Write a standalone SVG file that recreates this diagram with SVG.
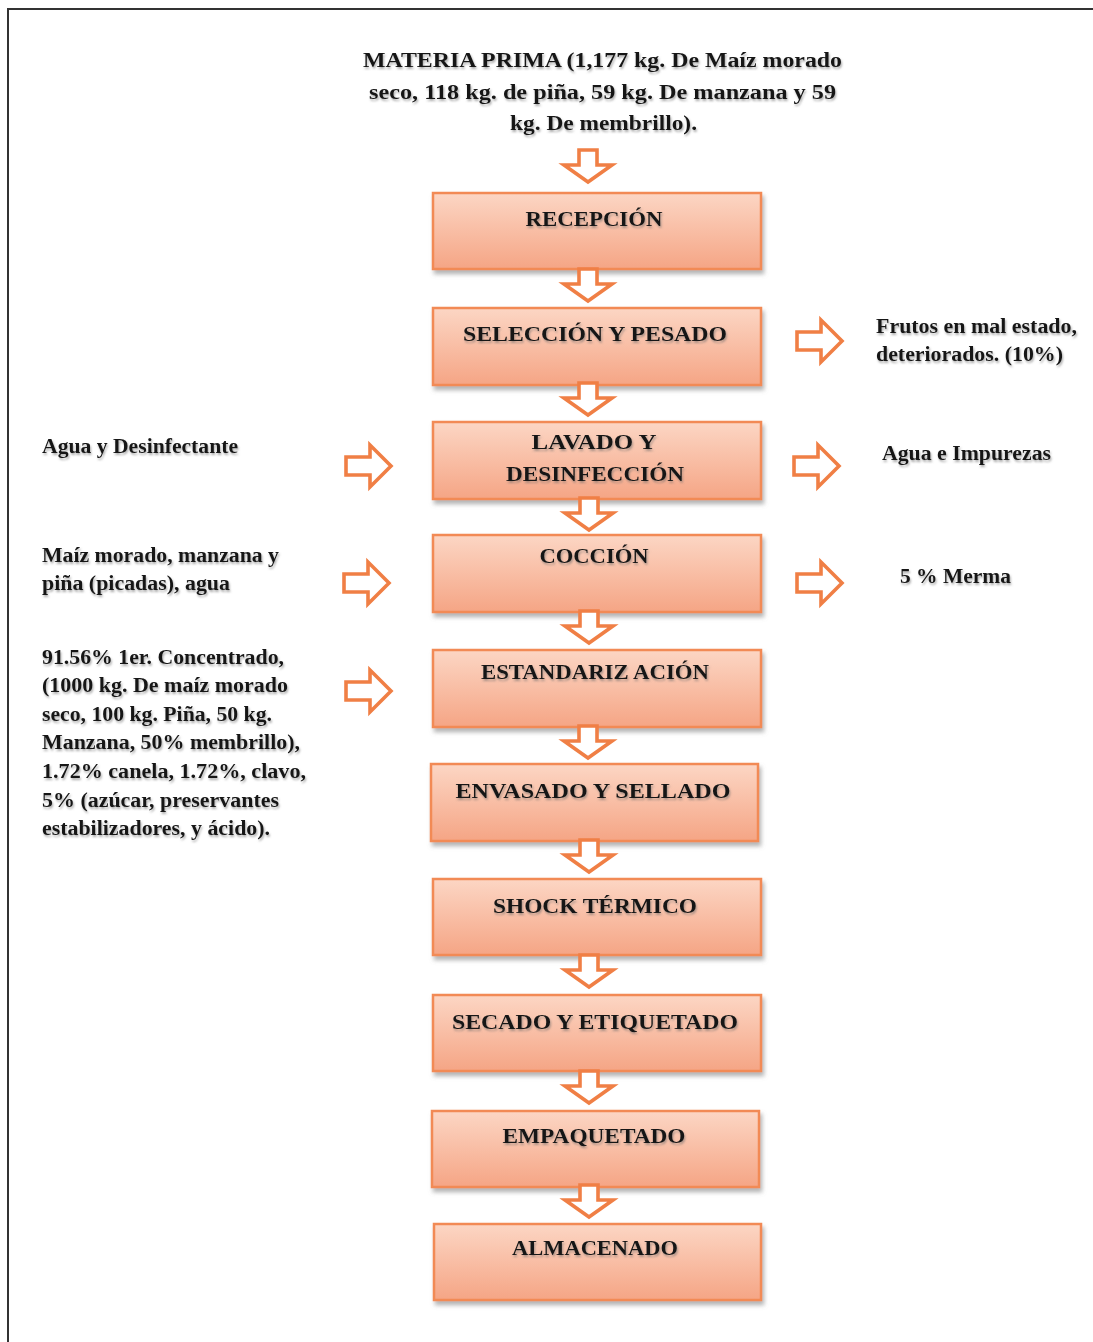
<svg xmlns="http://www.w3.org/2000/svg" width="1093" height="1342" viewBox="0 0 1093 1342">
<defs>
<linearGradient id="boxg" x1="0" y1="0" x2="0" y2="1">
<stop offset="0" stop-color="#FCD6C4"/>
<stop offset="1" stop-color="#F5A585"/>
</linearGradient>
<filter id="bsh" x="-5%" y="-10%" width="115%" height="130%">
<feDropShadow dx="2" dy="4" stdDeviation="2" flood-color="#777" flood-opacity="0.55"/>
</filter>
<filter id="tsh" x="-5%" y="-30%" width="110%" height="160%">
<feDropShadow dx="1" dy="2" stdDeviation="1.3" flood-color="#666" flood-opacity="0.55"/>
</filter>
<path id="dn" d="M-9,0 H9 V15 H24 L0,32 L-24,15 H-9 Z"/>
<path id="rt" d="M0,-9 H24 V-21 L45,0 L24,21 V9 H0 Z"/>
</defs>
<style>
.box{fill:url(#boxg);stroke:#F28A55;stroke-width:2.5;filter:url(#bsh)}
.t{font-family:"Liberation Serif","Times New Roman",serif;font-weight:bold;fill:#151515;filter:url(#tsh)}
.bt{font-size:21px;text-anchor:middle}
.st{font-size:20px}
.arr{fill:#fff;stroke:#F07F45;stroke-width:3.6;stroke-linejoin:miter}
</style>
<rect width="1093" height="1342" fill="#fff"/>
<path d="M8,1342 V9 H1093" fill="none" stroke="#333" stroke-width="2"/>

<g id="input-top">
<text class="t st" x="363" y="67" textLength="479" lengthAdjust="spacingAndGlyphs">MATERIA  PRIMA  (1,177 kg. De Maíz  morado</text>
<text class="t st" x="369" y="99" textLength="467" lengthAdjust="spacingAndGlyphs">seco,  118 kg. de piña, 59 kg. De manzana y 59</text>
<text class="t st" x="510" y="130" textLength="187" lengthAdjust="spacingAndGlyphs">kg. De membrillo).</text>
</g>

<g id="n1"><rect class="box" x="433" y="193" width="328" height="76"/><text class="t bt" x="594" y="226" textLength="137" lengthAdjust="spacingAndGlyphs">RECEPCIÓN</text></g>
<g id="n2"><rect class="box" x="433" y="308" width="328" height="77"/><text class="t bt" x="595" y="341" textLength="264" lengthAdjust="spacingAndGlyphs">SELECCIÓN Y PESADO</text></g>
<g id="n3"><rect class="box" x="433" y="422" width="328" height="77"/><text class="t bt" x="594" y="449" textLength="125" lengthAdjust="spacingAndGlyphs">LAVADO Y</text><text class="t bt" x="595" y="481" textLength="178" lengthAdjust="spacingAndGlyphs">DESINFECCIÓN</text></g>
<g id="n4"><rect class="box" x="433" y="535" width="328" height="77"/><text class="t bt" x="594" y="563" textLength="109" lengthAdjust="spacingAndGlyphs">COCCIÓN</text></g>
<g id="n5"><rect class="box" x="433" y="650" width="328" height="77"/><text class="t bt" x="595" y="679" textLength="228" lengthAdjust="spacingAndGlyphs">ESTANDARIZ ACIÓN</text></g>
<g id="n6"><rect class="box" x="431" y="764" width="327" height="77"/><text class="t bt" x="593" y="798" textLength="275" lengthAdjust="spacingAndGlyphs">ENVASADO  Y SELLADO</text></g>
<g id="n7"><rect class="box" x="433" y="879" width="328" height="76"/><text class="t bt" x="595" y="913" textLength="204" lengthAdjust="spacingAndGlyphs">SHOCK TÉRMICO</text></g>
<g id="n8"><rect class="box" x="433" y="995" width="328" height="76"/><text class="t bt" x="595" y="1029" textLength="286" lengthAdjust="spacingAndGlyphs">SECADO Y ETIQUETADO</text></g>
<g id="n9"><rect class="box" x="432" y="1111" width="327" height="76"/><text class="t bt" x="594" y="1143" textLength="183" lengthAdjust="spacingAndGlyphs">EMPAQUETADO</text></g>
<g id="n10"><rect class="box" x="434" y="1224" width="327" height="76"/><text class="t bt" x="595" y="1255" textLength="166" lengthAdjust="spacingAndGlyphs">ALMACENADO</text></g>

<g id="side-left-1"><text class="t st" x="42" y="453" textLength="196" lengthAdjust="spacingAndGlyphs">Agua y Desinfectante</text></g>
<g id="side-left-2">
<text class="t st" x="42" y="562" textLength="237" lengthAdjust="spacingAndGlyphs">Maíz morado, manzana y</text>
<text class="t st" x="42" y="590" textLength="188" lengthAdjust="spacingAndGlyphs">piña (picadas), agua</text>
</g>
<g id="side-left-3">
<text class="t st" x="42" y="664" textLength="242" lengthAdjust="spacingAndGlyphs">91.56% 1er. Concentrado,</text>
<text class="t st" x="42" y="692" textLength="246" lengthAdjust="spacingAndGlyphs">(1000 kg. De maíz morado</text>
<text class="t st" x="42" y="721" textLength="230" lengthAdjust="spacingAndGlyphs">seco, 100 kg. Piña, 50 kg.</text>
<text class="t st" x="42" y="749" textLength="258" lengthAdjust="spacingAndGlyphs">Manzana, 50% membrillo),</text>
<text class="t st" x="42" y="778" textLength="264" lengthAdjust="spacingAndGlyphs">1.72% canela, 1.72%, clavo,</text>
<text class="t st" x="42" y="807" textLength="237" lengthAdjust="spacingAndGlyphs">5% (azúcar, preservantes</text>
<text class="t st" x="42" y="835" textLength="228" lengthAdjust="spacingAndGlyphs">estabilizadores, y ácido).</text>
</g>
<g id="side-right-1">
<text class="t st" x="876" y="333" textLength="201" lengthAdjust="spacingAndGlyphs">Frutos en mal estado,</text>
<text class="t st" x="876" y="361" textLength="187" lengthAdjust="spacingAndGlyphs">deteriorados. (10%)</text>
</g>
<g id="side-right-2"><text class="t st" x="882" y="460" textLength="169" lengthAdjust="spacingAndGlyphs">Agua e Impurezas</text></g>
<g id="side-right-3"><text class="t st" x="900" y="583" textLength="111" lengthAdjust="spacingAndGlyphs">5 % Merma</text></g>

<g id="connectors">
<use href="#dn" class="arr" x="588" y="150"/>
<use href="#dn" class="arr" x="588" y="269"/>
<use href="#dn" class="arr" x="588" y="383"/>
<use href="#dn" class="arr" x="589" y="498"/>
<use href="#dn" class="arr" x="589" y="611"/>
<use href="#dn" class="arr" x="588" y="726"/>
<use href="#dn" class="arr" x="589" y="840"/>
<use href="#dn" class="arr" x="589" y="955"/>
<use href="#dn" class="arr" x="589" y="1071"/>
<use href="#dn" class="arr" x="589" y="1185"/>
<use href="#rt" class="arr" x="797" y="341"/>
<use href="#rt" class="arr" x="794" y="466"/>
<use href="#rt" class="arr" x="797" y="583"/>
<use href="#rt" class="arr" x="346" y="466"/>
<use href="#rt" class="arr" x="344" y="583"/>
<use href="#rt" class="arr" x="346" y="691"/>
</g>
</svg>
